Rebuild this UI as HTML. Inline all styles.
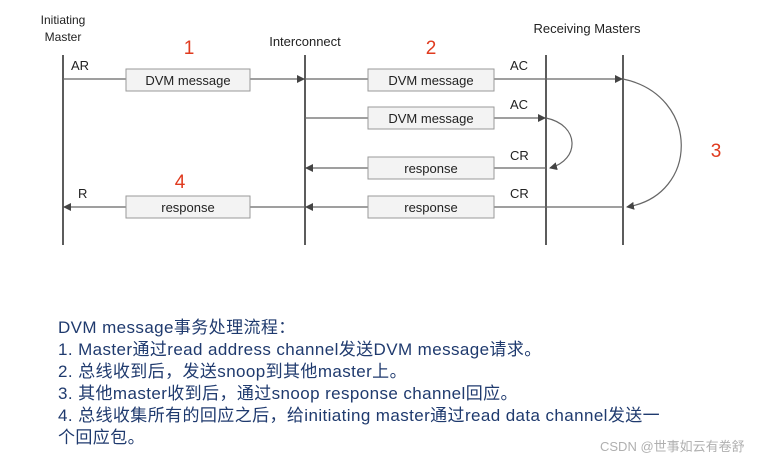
<!DOCTYPE html>
<html><head><meta charset="utf-8"><style>
body{margin:0;background:#fff;width:764px;height:460px;overflow:hidden;position:relative;font-family:"Liberation Sans","Noto Sans CJK SC",sans-serif}
.t{position:absolute;left:58px;color:#1f3a6e;font-size:17px;line-height:22px;top:317px;white-space:nowrap;letter-spacing:0.4px}
.w{position:absolute;left:600px;top:436px;color:#b0b0b0;font-size:13px}
</style></head><body>
<svg width="764" height="300" style="position:absolute;left:0;top:0" font-family="Liberation Sans, sans-serif">
<defs><marker id="a" markerWidth="8" markerHeight="8" refX="7" refY="4" orient="auto" markerUnits="userSpaceOnUse"><path d="M0,0 L8,4 L0,8 Z" fill="#444"/></marker></defs>
<g stroke="#333" stroke-width="1.6">
<line x1="63" y1="55" x2="63" y2="245"/><line x1="305" y1="55" x2="305" y2="245"/>
<line x1="546" y1="55" x2="546" y2="245"/><line x1="623" y1="55" x2="623" y2="245"/>
</g>
<g stroke="#666" stroke-width="1.2" fill="none">
<line x1="63" y1="79" x2="304" y2="79" marker-end="url(#a)"/>
<line x1="305" y1="79" x2="622" y2="79" marker-end="url(#a)"/>
<line x1="305" y1="118" x2="545" y2="118" marker-end="url(#a)"/>
<line x1="546" y1="168" x2="306" y2="168" marker-end="url(#a)"/>
<line x1="623" y1="207" x2="306" y2="207" marker-end="url(#a)"/>
<line x1="305" y1="207" x2="64" y2="207" marker-end="url(#a)"/>
<path d="M546,118 C580,125 580,160 550,168" marker-end="url(#a)"/>
<path d="M623,79 C700,95 700,195 627,207" marker-end="url(#a)"/>
</g>
<g fill="#f3f3f3" stroke="#999">
<rect x="126" y="69" width="124" height="22"/><rect x="368" y="69" width="126" height="22"/>
<rect x="368" y="107" width="126" height="22"/><rect x="368" y="157" width="126" height="22"/>
<rect x="126" y="196" width="124" height="22"/><rect x="368" y="196" width="126" height="22"/>
</g>
<g font-size="13" fill="#222" text-anchor="middle">
<text x="188" y="85">DVM message</text><text x="431" y="85">DVM message</text>
<text x="431" y="123">DVM message</text><text x="431" y="173">response</text>
<text x="188" y="212">response</text><text x="431" y="212">response</text>
<text x="63" y="24" font-size="12">Initiating</text><text x="63" y="41" font-size="12">Master</text>
<text x="305" y="46">Interconnect</text><text x="587" y="33">Receiving Masters</text>
</g>
<g font-size="13" fill="#222">
<text x="71" y="70">AR</text><text x="510" y="70">AC</text><text x="510" y="109">AC</text>
<text x="510" y="160">CR</text><text x="510" y="198">CR</text><text x="78" y="198">R</text>
</g>
<g font-size="19" fill="#e03a1e" text-anchor="middle">
<text x="189" y="54">1</text><text x="431" y="54">2</text><text x="716" y="157">3</text><text x="180" y="188">4</text>
</g>
</svg>
<div class="t">DVM message事务处理流程：<br>1. Master通过read address channel发送DVM message请求。<br>2. 总线收到后，发送snoop到其他master上。<br>3. 其他master收到后，通过snoop response channel回应。<br>4. 总线收集所有的回应之后，给initiating master通过read data channel发送一<br>个回应包。</div>
<div class="w">CSDN @世事如云有卷舒</div>
</body></html>
